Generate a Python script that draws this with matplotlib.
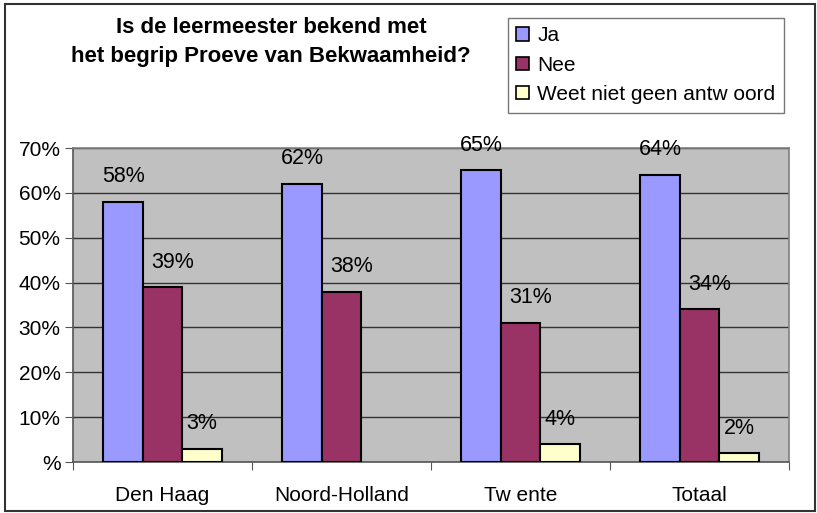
import matplotlib
matplotlib.use("Agg")
import matplotlib.pyplot as plt
import matplotlib.patches as mpatches
import numpy as np

plt.rcParams["font.family"] = ["Liberation Sans", "DejaVu Sans"]

# Data
categories = ["Den Haag", "Noord-Holland", "Tw ente", "Totaal"]
series_names = ["Ja", "Nee", "Weet niet geen antw oord"]
ja = [58, 62, 65, 64]
nee = [39, 38, 31, 34]
weet = [3, 0, 4, 2]
ja_labels = ["58%", "62%", "65%", "64%"]
nee_labels = ["39%", "38%", "31%", "34%"]
weet_labels = ["3%", "", "4%", "2%"]
y_ticks = [0, 10, 20, 30, 40, 50, 60, 70]
y_tick_labels = ["%", "10%", "20%", "30%", "40%", "50%", "60%", "70%"]
title = "Is de leermeester bekend met\nhet begrip Proeve van Bekwaamheid?"

colors = ["#9999FF", "#993366", "#FFFFCC"]
label_dx = [0, 7, 0]  # Nee labels sit a bit to the right in the original

fig = plt.figure(figsize=(8.17, 5.13), dpi=100)
ax = fig.add_axes([73 / 817, 1 - 462 / 513, 716 / 817, 314 / 513])
ax.set_facecolor("#C0C0C0")

x = np.arange(len(categories))
width = 0.22
all_vals = [ja, nee, weet]
all_labels = [ja_labels, nee_labels, weet_labels]
handles = []
for i, (vals, labs) in enumerate(zip(all_vals, all_labels)):
    pos = x + (i - 1) * width
    keep = [v > 0 for v in vals]
    ax.bar(pos[keep], np.array(vals)[keep], width, color=colors[i],
           edgecolor="black", linewidth=1.5, zorder=3)
    handles.append(mpatches.Patch(facecolor=colors[i], edgecolor="black",
                                  linewidth=1.2, label=series_names[i]))
    for p, v, lab in zip(pos, vals, labs):
        if lab:
            ax.annotate(lab, (p, v), xytext=(label_dx[i], 18),
                        textcoords="offset points", ha="center", va="center",
                        fontsize=15.5, zorder=4)

ax.set_xlim(-0.5, len(categories) - 0.5)
ax.set_ylim(0, 70)
ax.set_yticks(y_ticks)
ax.set_yticklabels(y_tick_labels, fontsize=15)
ax.yaxis.grid(True, color="#333333", linewidth=1.0, zorder=1)
ax.set_axisbelow(True)

ax.set_xticks(np.arange(len(categories) + 1) - 0.5)
ax.set_xticklabels([])
ax.set_xticks(x, minor=True)
ax.set_xticklabels(categories, minor=True, fontsize=15)
ax.tick_params(axis="x", which="minor", length=0, pad=17)
ax.tick_params(axis="x", which="major", length=6, direction="out", color="#555555")
ax.tick_params(axis="y", length=6, direction="out", color="#555555", pad=3)

for side in ["left", "bottom"]:
    ax.spines[side].set_color("#555555")
    ax.spines[side].set_linewidth(1.2)
for side in ["top", "right"]:
    ax.spines[side].set_color("#808080")
    ax.spines[side].set_linewidth(1.2)

fig.text(271 / 817, 1 - 42 / 513, title, ha="center", va="center",
         fontsize=16, fontweight="bold", linespacing=1.5)

leg = fig.legend(handles=handles, loc="upper left",
                 bbox_to_anchor=(508 / 817, 1 - 18 / 513), fontsize=15,
                 frameon=True, fancybox=False, edgecolor="#555555",
                 borderaxespad=0, handlelength=0.6, handleheight=0.6,
                 handletextpad=0.4, labelspacing=0.5, borderpad=0.4)
leg.get_frame().set_linewidth(1.0)

# outer chart border
fig.patches.append(mpatches.Rectangle((5 / 817, 2 / 513), 810 / 817, 507 / 513,
                                      transform=fig.transFigure, fill=False,
                                      edgecolor="#333333", linewidth=1.5))

fig.savefig("out.png", dpi=100)
